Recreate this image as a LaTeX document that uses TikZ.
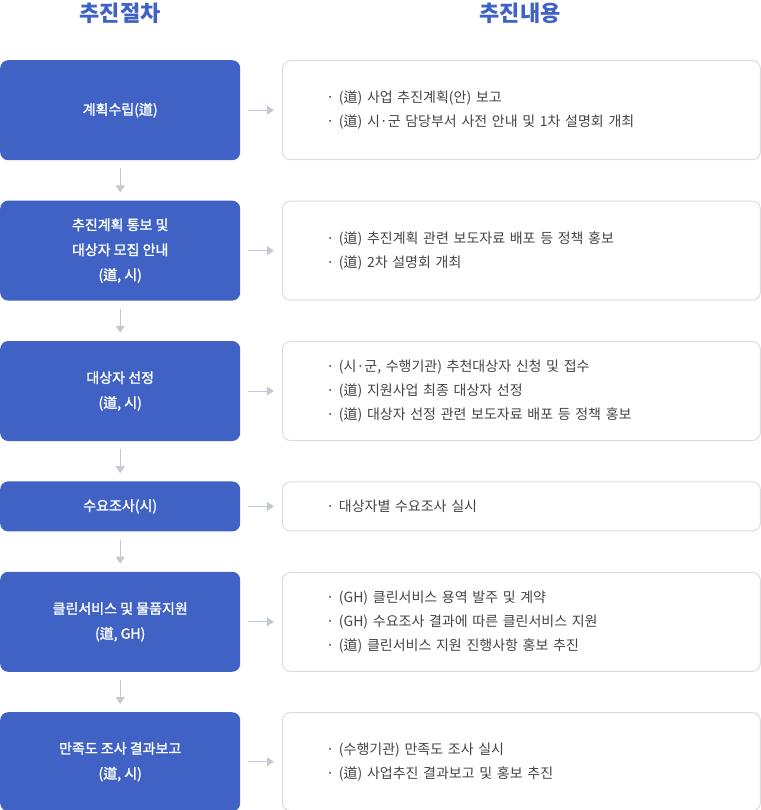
\documentclass[tikz,border=0pt]{standalone}
\usepackage{fontspec}
\setmainfont{Noto Sans CJK KR}
\newfontfamily\stepfont[FakeBold=1.6]{Noto Sans CJK KR}
\usetikzlibrary{positioning,arrows.meta}

\definecolor{stepblue}{HTML}{4062C4}
\definecolor{arrowgray}{HTML}{C3C9D1}
\definecolor{linegray}{HTML}{DCDCDC}
\definecolor{textgray}{HTML}{444444}

\tikzset{
  stepbox/.style={fill=stepblue, rounded corners=8pt, minimum width=240pt, text=white,
    font=\stepfont\fontsize{14}{25}\selectfont, align=center},
  infobox/.style={draw=linegray, line width=1pt, rounded corners=8pt, text width=390pt,
    inner xsep=44pt, text=textgray, font=\fontsize{14}{24}\selectfont, align=left},
  flow/.style={draw=arrowgray, line width=1pt, -{Triangle[width=9pt,length=7pt]},
    shorten <=8pt, shorten >=8pt},
  headtitle/.style={text=stepblue, font=\fontsize{22}{24}\selectfont\bfseries},
}

\begin{document}
\begin{tikzpicture}[x=1pt,y=1pt]
    \useasboundingbox (0,0) rectangle (760,-810);

    % headers
    \node[headtitle] (hstep) at (120,-13) {추진절차};
    \node[headtitle] (hinfo) at (520,-13) {추진내용};

    % procedure
    \node[stepbox, minimum height=100pt, anchor=north west] (s1) at (0,-60) {계획수립(道)};
    \node[stepbox, minimum height=100pt, below=40pt of s1] (s2) {추진계획 통보 및\\대상자 모집 안내\\(道, 시)};
    \node[stepbox, minimum height=100pt, below=40pt of s2] (s3) {대상자 선정\\(道, 시)};
    \node[stepbox, minimum height=50pt, below=40pt of s3] (s4) {수요조사(시)};
    \node[stepbox, minimum height=100pt, below=40pt of s4] (s5) {클린서비스 및 물품지원\\(道, GH)};
    \node[stepbox, minimum height=99pt, below=40pt of s5] (s6) {만족도 조사 결과보고\\(道, 시)};

    % contents
    \node[infobox, minimum height=99pt, right=41.5pt of s1] (c1) {· (道) 사업 추진계획(안) 보고\\· (道) 시·군 담당부서 사전 안내 및 1차 설명회 개최};
    \node[infobox, minimum height=99pt, right=41.5pt of s2] (c2) {· (道) 추진계획 관련 보도자료 배포 등 정책 홍보\\· (道) 2차 설명회 개최};
    \node[infobox, minimum height=99pt, right=41.5pt of s3] (c3) {· (시·군, 수행기관) 추천대상자 신청 및 접수\\· (道) 지원사업 최종 대상자 선정\\· (道) 대상자 선정 관련 보도자료 배포 등 정책 홍보};
    \node[infobox, minimum height=49pt, right=41.5pt of s4] (c4) {· 대상자별 수요조사 실시};
    \node[infobox, minimum height=99pt, right=41.5pt of s5] (c5) {· (GH) 클린서비스 용역 발주 및 계약\\· (GH) 수요조사 결과에 따른 클린서비스 지원\\· (道) 클린서비스 지원 진행사항 홍보 추진};
    \node[infobox, minimum height=98pt, right=41.5pt of s6] (c6) {· (수행기관) 만족도 조사 실시\\· (道) 사업추진 결과보고 및 홍보 추진};

    % arrows
    \foreach \a/\b in {s1/s2, s2/s3, s3/s4, s4/s5, s5/s6}
        \draw[flow] (\a) -- (\b);
    \foreach \i in {1,...,6}
        \draw[flow] (s\i) -- (c\i);
\end{tikzpicture}
\end{document}
